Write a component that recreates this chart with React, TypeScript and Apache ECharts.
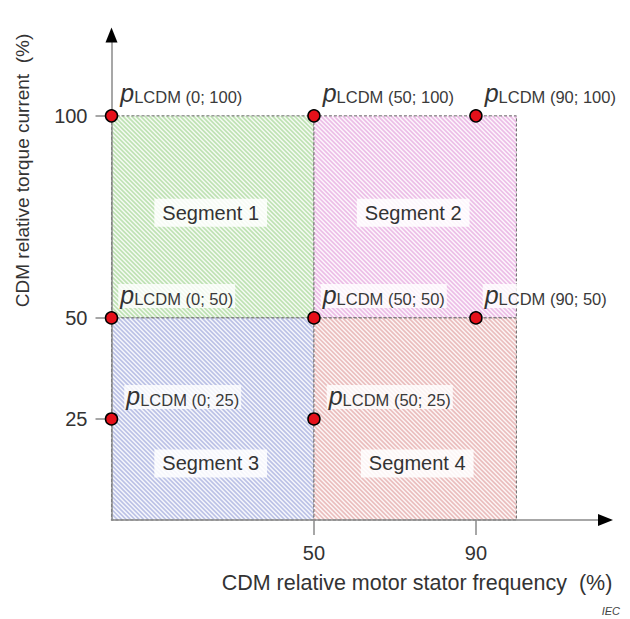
import React, { useEffect, useRef } from 'react';
import * as echarts from 'echarts';

// ---- data ----
const xTickValues = [50, 90];
const yTickValues = [25, 50, 100];
const pointX = [0, 50, 90, 0, 50, 90, 0, 50];
const pointY = [100, 100, 100, 50, 50, 50, 25, 25];
const segmentNames = ['Segment 1', 'Segment 2', 'Segment 3', 'Segment 4'];
const segmentX0 = [0, 50, 0, 50];
const segmentX1 = [50, 100, 50, 100];
const segmentY0 = [50, 50, 0, 0];
const segmentY1 = [100, 100, 50, 50];
const segmentLabelX = [24.5, 74.5, 24.5, 75.5];
const segmentLabelY = [76, 76, 14, 14];
const xAxisTitle = 'CDM relative motor stator frequency  (%)';
const yAxisTitle = 'CDM relative torque current  (%)';
const sourceNote = 'IEC';

// ---- styles ----
const FONT = '"Liberation Sans", Arial, Helvetica, sans-serif';
const stripeColors = ['#bfe2b4', '#ecbfe7', '#bcc2e6', '#eabebe'];
const tintColors = ['#f6fbf4', '#fdf6fc', '#f6f7fc', '#fdf6f6'];
const AXIS_GRAY = '#8a8a8a';

export default function App() {
  const ref = useRef<HTMLDivElement>(null);

  useEffect(() => {
    if (!ref.current) return;
    const chart = echarts.init(ref.current, null, { renderer: 'svg' });

    const segData = segmentNames.map((n, i) => [
      segmentX0[i], segmentY0[i], segmentX1[i], segmentY1[i], segmentLabelX[i], segmentLabelY[i], i,
    ]);

    const renderSegment = (params: any, api: any) => {
      const idx = api.value(6);
      const p0 = api.coord([api.value(0), api.value(1)]);
      const p1 = api.coord([api.value(2), api.value(3)]);
      const lp = api.coord([api.value(4), api.value(5)]);
      const left = p0[0], right = p1[0], top = p1[1], bottom = p0[1];
      // hatch lines: y = x + k (down-right diagonal)
      const step = 4.4;
      let d = '';
      const kMin = top - right;
      const kMax = bottom - left;
      for (let k = kMin + step / 2; k < kMax; k += step) {
        const xa = Math.max(left, top - k);
        const xb = Math.min(right, bottom - k);
        if (xb > xa) {
          d += `M${xa.toFixed(2)} ${(xa + k).toFixed(2)}L${xb.toFixed(2)} ${(xb + k).toFixed(2)}`;
        }
      }
      return {
        type: 'group',
        children: [
          {
            type: 'rect',
            shape: { x: left, y: top, width: right - left, height: bottom - top },
            style: { fill: tintColors[idx], stroke: 'none' },
          },
          {
            type: 'path',
            shape: { pathData: d },
            style: { fill: 'none', stroke: stripeColors[idx], lineWidth: 1.7 },
          },
          {
            type: 'rect',
            shape: { x: left, y: top, width: right - left, height: bottom - top },
            style: { fill: 'none', stroke: '#6a6a6a', lineWidth: 1, lineDash: [3, 2] },
          },
          {
            type: 'text',
            x: lp[0],
            y: lp[1],
            style: {
              text: segmentNames[idx],
              fontSize: 20,
              fontFamily: FONT,
              fill: '#333',
              align: 'center',
              verticalAlign: 'middle',
              backgroundColor: 'rgba(255,255,255,0.85)',
              padding: [4, 8, 4, 8],
            },
          },
        ],
      };
    };

    const pointData = pointX.map((x, i) => ({
      value: [x, pointY[i]],
      label: { offset: [pointY[i] === 25 ? 6 : 0, -22] },
    }));

    const option: any = {
      animation: false,
      backgroundColor: '#ffffff',
      grid: { left: 111.5, top: 35, width: 494, height: 485, containLabel: false },
      xAxis: [
        {
          type: 'value', min: 0, max: 122, position: 'bottom', z: 3,
          axisLine: { show: true, onZero: false, lineStyle: { color: AXIS_GRAY, width: 1.5 } },
          axisTick: { show: true, customValues: xTickValues, length: 15, lineStyle: { color: AXIS_GRAY, width: 1.5 } },
          axisLabel: { show: true, customValues: xTickValues, margin: 23, fontSize: 20, color: '#333', fontFamily: FONT },
          splitLine: { show: false },
          name: xAxisTitle, nameLocation: 'middle', nameGap: 52,
          nameTextStyle: { fontSize: 21.5, color: '#333', fontFamily: FONT, padding: [0, 0, 0, 117] },
        },
        {
          type: 'value', min: 0, max: 122, position: 'bottom', z: 3,
          axisLine: { show: true, onZero: false, symbol: ['none', 'triangle'], symbolSize: [12, 15], lineStyle: { color: '#000', opacity: 0 } },
          axisTick: { show: false }, axisLabel: { show: false }, splitLine: { show: false },
        },
      ],
      yAxis: [
        {
          type: 'value', min: 0, max: 120, position: 'left', z: 3,
          axisLine: { show: true, onZero: false, lineStyle: { color: AXIS_GRAY, width: 1.5 } },
          axisTick: { show: true, customValues: yTickValues, length: 16, lineStyle: { color: AXIS_GRAY, width: 1.5 } },
          axisLabel: { show: true, customValues: yTickValues, margin: 24, fontSize: 20, color: '#333', fontFamily: FONT },
          splitLine: { show: false },
          name: yAxisTitle, nameLocation: 'middle', nameGap: 80,
          nameTextStyle: { fontSize: 19, color: '#333', fontFamily: FONT, padding: [0, 0, 0, 214] },
        },
        {
          type: 'value', min: 0, max: 120, position: 'left', z: 3,
          axisLine: { show: true, onZero: false, symbol: ['none', 'triangle'], symbolSize: [12, 15], lineStyle: { color: '#000', opacity: 0 } },
          axisTick: { show: false }, axisLabel: { show: false }, splitLine: { show: false },
        },
      ],
      graphic: [
        {
          type: 'text', right: 10, bottom: 3,
          style: { text: sourceNote, fontSize: 11, fontStyle: 'italic', fill: '#444', fontFamily: FONT },
        },
      ],
      series: [
        {
          type: 'custom',
          xAxisIndex: 0, yAxisIndex: 0,
          renderItem: renderSegment,
          data: segData,
          z: 1,
          silent: true,
        },
        {
          type: 'scatter',
          xAxisIndex: 0, yAxisIndex: 0,
          data: pointData,
          symbol: 'circle',
          symbolSize: 12,
          z: 10,
          itemStyle: { color: '#e5101a', borderColor: '#000', borderWidth: 1.5, opacity: 1 },
          label: {
            show: true,
            position: 'right',
            distance: 0,
            backgroundColor: 'rgba(255,255,255,0.8)',
            padding: [0, 2, 0, 2],
            formatter: (p: any) => `{p|p}{s|LCDM (${p.value[0]}; ${p.value[1]})}`,
            rich: {
              p: { fontSize: 25, fontStyle: 'italic', fontFamily: FONT, color: '#333', lineHeight: 24, verticalAlign: 'bottom' },
              s: { fontSize: 16.5, fontFamily: FONT, color: '#3a3a3a', lineHeight: 10, verticalAlign: 'bottom' },
            },
          },
        },
      ],
    };

    chart.setOption(option);
    return () => chart.dispose();
  }, []);

  return (
    <div
      ref={ref}
      style={{ position: 'fixed', left: 0, top: 0, width: 630, height: 619, background: '#fff' }}
    />
  );
}
